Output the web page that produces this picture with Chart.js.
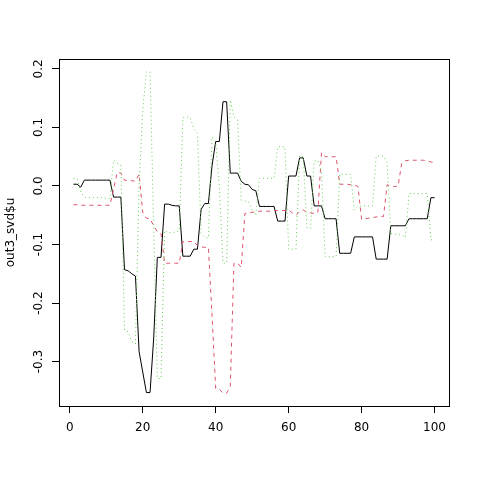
<!DOCTYPE html>
<html>
<head>
<meta charset="utf-8">
<script src="https://cdn.jsdelivr.net/npm/chart.js@4/dist/chart.umd.min.js"></script>
<style>
html,body{margin:0;padding:0;background:#fff;}
canvas{display:block;}
</style>
</head>
<body>
<canvas id="c" width="480" height="480"></canvas>
<script>
const idx = [1,2,3,4,5,6,7,8,9,10,11,12,13,14,15,16,17,18,19,20,21,22,23,24,25,26,27,28,29,30,31,32,33,34,35,36,37,38,39,40,41,42,43,44,45,46,47,48,49,50,51,52,53,54,55,56,57,58,59,60,61,62,63,64,65,66,67,68,69,70,71,72,73,74,75,76,77,78,79,80,81,82,83,84,85,86,87,88,89,90,91,92,93,94,95,96,97,98,99,100];

const col1 = [0.003,0.003,-0.002,0.010,0.010,0.010,0.010,0.010,0.010,0.010,
0.010,-0.019,-0.019,-0.019,-0.143,-0.145,-0.150,-0.154,-0.283,-0.318,
-0.353,-0.353,-0.260,-0.122,-0.122,-0.031,-0.031,-0.033,-0.034,-0.034,
-0.120,-0.120,-0.120,-0.108,-0.108,-0.040,-0.030,-0.030,0.035,0.076,
0.076,0.144,0.144,0.022,0.022,0.022,0.008,0.003,0.002,-0.006,
-0.008,-0.035,-0.035,-0.035,-0.035,-0.035,-0.060,-0.060,-0.060,0.017,
0.017,0.017,0.048,0.048,0.017,0.017,-0.034,-0.034,-0.034,-0.056,
-0.056,-0.056,-0.056,-0.115,-0.115,-0.115,-0.115,-0.087,-0.087,-0.087,
-0.087,-0.087,-0.087,-0.125,-0.125,-0.125,-0.125,-0.068,-0.068,-0.068,
-0.068,-0.068,-0.056,-0.056,-0.056,-0.056,-0.056,-0.056,-0.020,-0.020];

const col2 = [-0.032,-0.032,-0.033,-0.033,-0.033,-0.033,-0.033,-0.033,-0.033,-0.033,
-0.033,-0.005,0.023,0.022,0.010,0.009,0.009,0.008,0.020,-0.045,
-0.055,-0.056,-0.068,-0.078,-0.081,-0.132,-0.132,-0.132,-0.132,-0.132,
-0.095,-0.095,-0.095,-0.095,-0.102,-0.104,-0.105,-0.105,-0.222,-0.346,
-0.347,-0.354,-0.354,-0.343,-0.132,-0.132,-0.139,-0.047,-0.046,-0.045,
-0.044,-0.043,-0.043,-0.043,-0.043,-0.042,-0.042,-0.042,-0.042,-0.041,
-0.046,-0.050,-0.044,-0.041,-0.045,-0.046,-0.047,-0.045,0.057,0.050,
0.050,0.050,0.050,0.003,0.003,0.003,0.002,0.002,-0.001,-0.057,
-0.056,-0.055,-0.054,-0.053,-0.052,-0.052,0.002,0.000,-0.001,0.000,
0.039,0.043,0.044,0.044,0.044,0.044,0.044,0.043,0.041,0.040];

const col3 = [0.013,0.012,-0.010,-0.019,-0.020,-0.020,-0.020,-0.020,-0.020,-0.021,
-0.021,0.044,0.039,0.036,-0.246,-0.249,-0.266,-0.270,0.000,0.130,
0.195,0.195,-0.070,-0.329,-0.329,-0.076,-0.080,-0.080,-0.078,-0.077,
0.117,0.118,0.117,0.098,0.090,-0.081,-0.088,-0.089,0.084,0.076,
0.000,-0.132,-0.132,0.147,0.118,0.113,-0.024,-0.026,-0.027,-0.042,
-0.050,0.013,0.013,0.013,0.013,0.013,0.067,0.067,0.067,-0.108,
-0.108,-0.108,0.052,0.050,-0.072,-0.072,0.042,0.044,0.025,-0.121,
-0.121,-0.121,-0.121,0.020,0.020,0.020,0.020,-0.041,-0.035,-0.034,
-0.034,-0.034,-0.034,0.051,0.051,0.051,0.039,-0.081,-0.082,-0.083,
-0.084,-0.088,-0.013,-0.013,-0.013,-0.013,-0.013,-0.013,-0.092,-0.092];

const xTicks = [0,20,40,60,80,100];
const yTicks = [-0.3,-0.2,-0.1,0.0,0.1,0.2];
const yTitle = 'out3_svd$u';

const FONT = '"DejaVu Sans", sans-serif';

function pts(arr){ return idx.map((x,i)=>({x:x, y:arr[i]})); }

const boxPlugin = {
  id:'rbox',
  afterDraw(chart){
    const ctx = chart.ctx, a = chart.chartArea;
    ctx.save();
    ctx.strokeStyle = '#000';
    ctx.lineWidth = 1;
    ctx.strokeRect(a.left+0.5, a.top+0.5, a.right-a.left, a.bottom-a.top);
    const ys = chart.scales.y;
    ctx.fillStyle = '#000';
    ctx.font = '12px ' + FONT;
    ctx.textAlign = 'center';
    ctx.textBaseline = 'middle';
    yTicks.forEach(v=>{
      const py = ys.getPixelForValue(v);
      ctx.save();
      ctx.translate(39, py);
      ctx.rotate(-Math.PI/2);
      ctx.fillText(v.toFixed(1), 0, 0);
      ctx.restore();
    });
    ctx.restore();
  }
};

new Chart(document.getElementById('c'), {
  type:'line',
  data:{
    datasets:[
      {data:pts(col1), borderColor:'#000000', borderWidth:1, pointRadius:0, tension:0, fill:false, order:3},
      {data:pts(col2), borderColor:'#DF536B', borderWidth:1, borderDash:[4,4], pointRadius:0, tension:0, fill:false, order:2},
      {data:pts(col3), borderColor:'#61D04F', borderWidth:1, borderDash:[1,3], pointRadius:0, tension:0, fill:false, order:1}
    ]
  },
  options:{
    responsive:false,
    devicePixelRatio:1,
    animation:false,
    events:[],
    layout:{padding:{left:0,right:31,top:59,bottom:0}},
    plugins:{legend:{display:false}, tooltip:{enabled:false}},
    scales:{
      x:{
        type:'linear',
        min:-2.96, max:103.96,
        afterFit(s){ s.height = 74; },
        afterBuildTicks(s){ s.ticks = xTicks.map(v=>({value:v})); },
        grid:{drawOnChartArea:false, drawTicks:true, tickLength:7, color:'#000', lineWidth:1},
        border:{display:false},
        ticks:{color:'#000', font:{family:FONT, size:12}, padding:8, maxRotation:0, autoSkip:false}
      },
      y:{
        type:'linear',
        min:-0.376, max:0.217,
        afterFit(s){ s.width = 59; },
        afterBuildTicks(s){ s.ticks = yTicks.map(v=>({value:v})); },
        grid:{drawOnChartArea:false, drawTicks:true, tickLength:7, color:'#000', lineWidth:1},
        border:{display:false},
        ticks:{display:false},
        title:{display:true, text:yTitle, color:'#000', font:{family:FONT, size:12}, padding:{top:4,bottom:0}}
      }
    }
  },
  plugins:[boxPlugin]
});
</script>
</body>
</html>
